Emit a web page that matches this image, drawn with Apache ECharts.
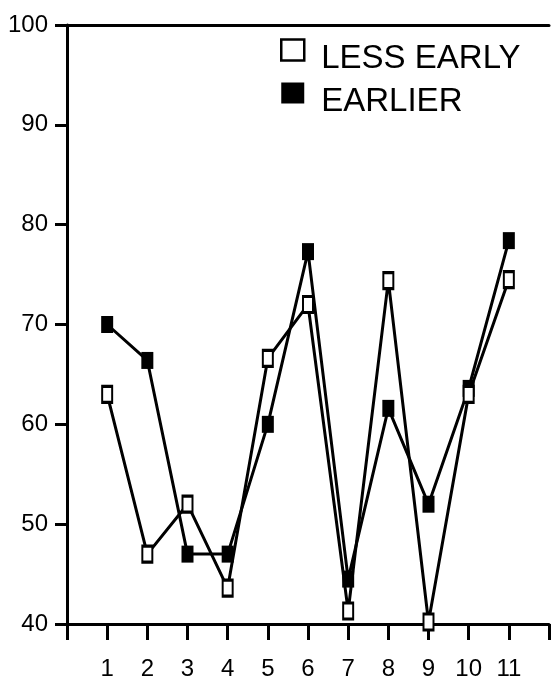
<!DOCTYPE html>
<html>
<head>
<meta charset="utf-8">
<script src="https://cdn.jsdelivr.net/npm/echarts@6/dist/echarts.min.js"></script>
<style>
html,body{margin:0;padding:0;background:#fff;}
#chart{width:552px;height:681px;}
</style>
</head>
<body>
<div id="chart"></div>
<script>
var categories = [1, 2, 3, 4, 5, 6, 7, 8, 9, 10, 11];
var lessEarly = [63, 47, 52, 43.6, 66.6, 72, 41.3, 74.4, 40.2, 63, 74.5];
var earlier = [70, 66.4, 47, 47, 60, 77.3, 44.5, 61.6, 52, 63.6, 78.4];
var yTicks = [40, 50, 60, 70, 80, 90, 100];
var seriesNames = ['LESS EARLY', 'EARLIER'];

function pairs(vals) { return categories.map(function (c, i) { return [c, vals[i]]; }); }

var chart = echarts.init(document.getElementById('chart'));
var axisColor = '#000';
chart.setOption({
  backgroundColor: '#fff',
  animation: false,
  grid: { left: 67, top: 25, width: 488, height: 601 },
  legend: {
    orient: 'vertical',
    left: 280, top: 25, padding: 0,
    itemWidth: 23, itemHeight: 21,
    itemGap: -7,
    formatter: '{t|{name}}',
    textStyle: {
      color: '#000',
      rich: { t: { fontFamily: 'Liberation Sans', fontSize: 33, color: '#000', padding: [17, 0, 0, 12], lineHeight: 34 } }
    },
    data: [
      { name: seriesNames[0], icon: 'rect', itemStyle: { color: '#fff', borderColor: '#000', borderWidth: 2.5 } },
      { name: seriesNames[1], icon: 'rect', itemStyle: { color: '#000', borderColor: '#000', borderWidth: 0 } }
    ]
  },
  xAxis: [{
    type: 'value', min: 0, max: 12, interval: 1,
    splitLine: { show: false },
    axisLine: { lineStyle: { color: axisColor, width: 3 } },
    axisTick: { inside: false, length: 16, lineStyle: { color: axisColor, width: 3 } },
    axisLabel: {
      margin: 33, fontFamily: 'Liberation Sans', fontSize: 24, color: '#000',
      formatter: function (v) { return categories.indexOf(v) >= 0 ? String(v) : ''; }
    }
  }, {
    type: 'value', min: 0, max: 12, position: 'top',
    splitLine: { show: false },
    axisLine: { show: true, lineStyle: { color: axisColor, width: 3 } },
    axisTick: { show: false }, axisLabel: { show: false }
  }],
  yAxis: {
    type: 'value', min: yTicks[0], max: yTicks[yTicks.length - 1], interval: 10,
    splitLine: { show: false },
    axisLine: { lineStyle: { color: axisColor, width: 3 } },
    axisTick: { inside: false, length: 12, lineStyle: { color: axisColor, width: 3 } },
    axisLabel: { margin: 19, fontFamily: 'Liberation Sans', fontSize: 24, color: '#000' }
  },
  series: [{
    name: seriesNames[0], type: 'line', data: pairs(lessEarly),
    symbol: 'rect', symbolSize: [10, 16],
    lineStyle: { color: '#000', width: 3 },
    itemStyle: { color: '#fff', borderColor: '#000', borderWidth: 2.5 },
    z: 3
  }, {
    name: seriesNames[1], type: 'line', data: pairs(earlier),
    symbol: 'rect', symbolSize: [12, 17],
    lineStyle: { color: '#000', width: 3 },
    itemStyle: { color: '#000', borderColor: '#000', borderWidth: 0 },
    z: 2
  }]
});
</script>
</body>
</html>
